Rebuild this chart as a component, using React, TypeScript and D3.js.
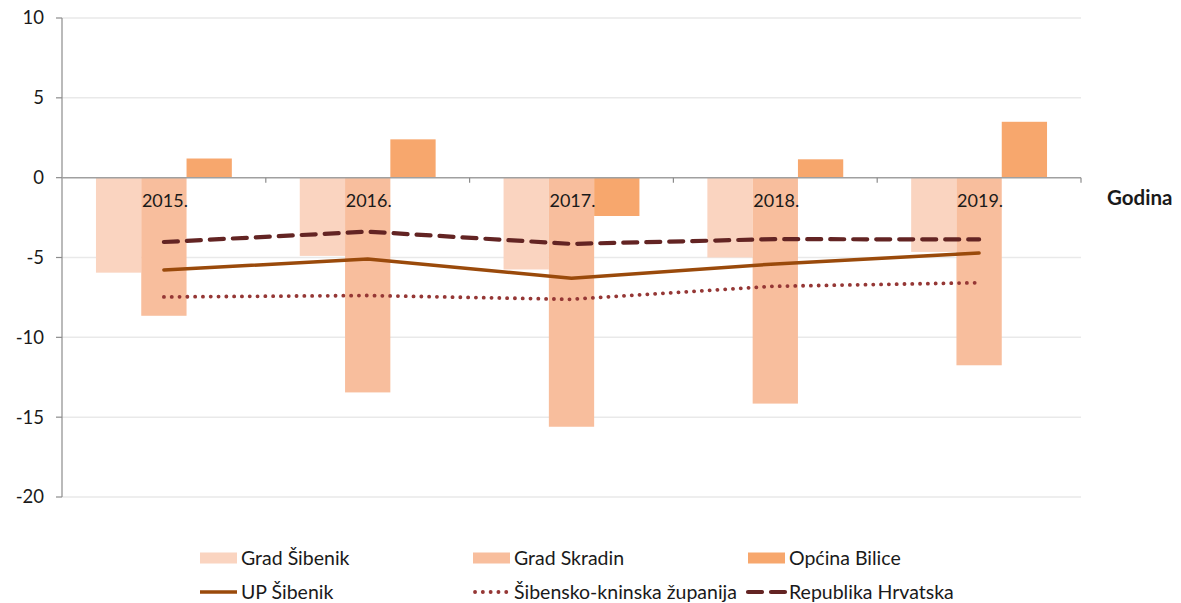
import React from "react";
import * as d3 from "d3";

const years = ["2015.", "2016.", "2017.", "2018.", "2019."];
const barSeries = ["Grad Šibenik", "Grad Skradin", "Općina Bilice"];
const gradSibenik = [-5.95, -4.9, -5.75, -5.0, -4.65];
const gradSkradin = [-8.65, -13.45, -15.6, -14.15, -11.75];
const opcinaBilice = [1.2, 2.4, -2.4, 1.15, 3.5];
const lineSeries = ["UP Šibenik", "Šibensko-kninska županija", "Republika Hrvatska"];
const upSibenik = [-5.78, -5.1, -6.3, -5.4, -4.72];
const sibenskoKninska = [-7.47, -7.38, -7.62, -6.8, -6.58];
const republikaHrvatska = [-4.03, -3.38, -4.15, -3.85, -3.87];
const yTicks = [10, 5, 0, -5, -10, -15, -20];

const barColors = ["#FAD4C0", "#F8BE9D", "#F7A76D"];
const lineColors = ["#9A4A0B", "#953735", "#632423"];
const lineDash = [null, "0.1 7.7", "14 9"];
const lineWidths = [3.5, 3.8, 4.2];
const FONT = "Lato, 'Open Sans', sans-serif";

export default function App() {
  const W = 1181, H = 603;
  const left = 62, right = 1081;
  const y = d3.scaleLinear().domain([-20, 10]).range([497, 18]);
  const x = d3.scaleBand().domain(years).range([left, right]).padding(0);
  const xi = d3.scaleBand().domain(barSeries).range([0, x.bandwidth()]).paddingInner(0).paddingOuter(0.75);
  const barData = [gradSibenik, gradSkradin, opcinaBilice];
  const lineData = [upSibenik, sibenskoKninska, republikaHrvatska];
  const lineGen = d3.line<number>()
    .x((_, i) => (x(years[i]) as number) + x.bandwidth() / 2)
    .y((d) => y(d));
  const y0 = y(0);

  const legendCols = [200, 473, 748];
  const legendRows = [558, 592];

  return (
    <svg width={W} height={H} style={{ position: "absolute", left: 0, top: 0, background: "#fff" }} fontFamily={FONT}>
      {/* gridlines */}
      {yTicks.filter((t) => t !== 0).map((t) => (
        <line key={"g" + t} x1={left} x2={right} y1={y(t)} y2={y(t)} stroke="#E9E9E9" strokeWidth={1.5} />
      ))}
      {/* bars */}
      {barData.map((vals, si) =>
        vals.map((v, i) => {
          const bx = (x(years[i]) as number) + (xi(barSeries[si]) as number);
          return (
            <rect key={si + "-" + i} x={bx} width={xi.bandwidth()} y={Math.min(y(v), y0)} height={Math.abs(y(v) - y0)} fill={barColors[si]} />
          );
        })
      )}
      {/* y axis */}
      <line x1={left} x2={left} y1={y(10)} y2={y(-20)} stroke="#8C8C8C" strokeWidth={1.2} />
      {yTicks.map((t) => (
        <g key={"t" + t}>
          <line x1={left - 6} x2={left} y1={y(t)} y2={y(t)} stroke="#8C8C8C" strokeWidth={1.2} />
          <text x={44} y={y(t)} dy="0.35em" textAnchor="end" fontSize={18.5} fill="#1a1a1a">{t}</text>
        </g>
      ))}
      {/* x axis */}
      <line x1={left} x2={right} y1={y0} y2={y0} stroke="#A0A0A0" strokeWidth={1.5} />
      {years.map((yr, i) => (
        <line key={"xt" + i} x1={(x(yr) as number) + x.bandwidth()} x2={(x(yr) as number) + x.bandwidth()} y1={y0} y2={y0 + 5} stroke="#8C8C8C" strokeWidth={1.2} />
      ))}
      {years.map((yr) => (
        <text key={"xl" + yr} x={(x(yr) as number) + x.bandwidth() / 2 + 1} y={206.5} textAnchor="middle" fontSize={18} fill="#1a1a1a">{yr}</text>
      ))}
      <text x={1107} y={204.5} fontSize={20.5} fontWeight="bold" fill="#1a1a1a">Godina</text>
      {/* lines */}
      {lineData.map((vals, li) => (
        <path key={"l" + li} d={lineGen(vals) as string} fill="none" stroke={lineColors[li]} strokeWidth={lineWidths[li]}
          strokeDasharray={lineDash[li] ?? undefined} strokeLinecap="round" strokeLinejoin="round" />
      ))}
      {/* legend */}
      {barSeries.map((s, i) => (
        <g key={"lb" + i}>
          <rect x={legendCols[i]} y={legendRows[0] - 5.5} width={37} height={11} fill={barColors[i]} />
          <text x={legendCols[i] + 41} y={legendRows[0]} dy="0.35em" fontSize={19.5} fill="#1a1a1a">{s}</text>
        </g>
      ))}
      {lineSeries.map((s, i) => (
        <g key={"ll" + i}>
          <line x1={legendCols[i] + (i === 1 ? 2 : 0)} x2={legendCols[i] + 37} y1={legendRows[1]} y2={legendRows[1]}
            stroke={lineColors[i]} strokeWidth={lineWidths[i]} strokeDasharray={lineDash[i] ?? undefined} strokeLinecap={i === 0 ? "butt" : "round"} />
          <text x={legendCols[i] + 41} y={legendRows[1]} dy="0.35em" fontSize={19.5} fill="#1a1a1a">{s}</text>
        </g>
      ))}
    </svg>
  );
}
